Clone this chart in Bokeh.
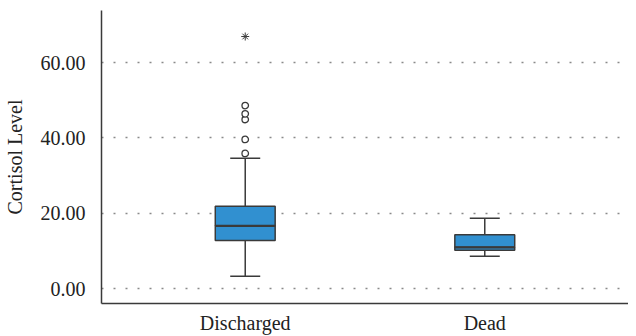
from bokeh.plotting import figure
from bokeh.models import (FactorRange, Range1d, FixedTicker, PrintfTickFormatter,
                          ColumnDataSource, Whisker, TeeHead)
from bokeh.embed import file_html
from bokeh.resources import INLINE

categories = ["Discharged", "Dead"]
lower_whisker = [3.3, 8.6]
q1 = [12.8, 10.2]
median = [16.7, 11.0]
q3 = [21.9, 14.3]
upper_whisker = [34.6, 18.7]

outlier_cats = ["Discharged", "Discharged", "Discharged", "Discharged", "Discharged"]
outlier_vals = [35.9, 39.6, 44.9, 46.4, 48.6]
extreme_cats = ["Discharged"]
extreme_vals = [66.9]

y_ticks = [0, 20, 40, 60]
y_label = "Cortisol Level"

FONT = "Liberation Serif"
DARK = "#3a3a3a"
BLUE = "#3190d0"

p = figure(width=628, height=336, output_backend="svg", toolbar_location=None,
           x_range=FactorRange(*categories, range_padding=0.1, range_padding_units="absolute"),
           y_range=Range1d(-3.9, 73.8),
           min_border_left=94, min_border_top=10, min_border_right=0, min_border_bottom=0)
p.outline_line_color = None
p.background_fill_color = "white"

src = ColumnDataSource(dict(x=categories, lo=lower_whisker, q1=q1, med=median, q3=q3, hi=upper_whisker))

p.add_layout(Whisker(source=src, base="x", lower="q3", upper="hi", dimension="height",
                     line_color=DARK, line_width=1.5,
                     upper_head=TeeHead(size=30, line_color=DARK, line_width=1.5), lower_head=None))
p.add_layout(Whisker(source=src, base="x", lower="lo", upper="q1", dimension="height",
                     line_color=DARK, line_width=1.5,
                     lower_head=TeeHead(size=30, line_color=DARK, line_width=1.5), upper_head=None))

p.vbar(x="x", bottom="q1", top="med", width=0.25, source=src,
       fill_color=BLUE, line_color=DARK, line_width=1.5)
p.vbar(x="x", bottom="med", top="q3", width=0.25, source=src,
       fill_color=BLUE, line_color=DARK, line_width=1.5)
p.vbar(x="x", bottom="med", top="med", width=0.25, source=src,
       fill_color=None, line_color=DARK, line_width=2.2)

p.scatter(x=outlier_cats, y=outlier_vals, marker="circle", size=6.5,
          fill_color="white", line_color=DARK, line_width=1.3)
p.scatter(x=extreme_cats, y=extreme_vals, marker="asterisk", size=8,
          line_color=DARK, line_width=1)

p.xgrid.grid_line_color = None
p.ygrid.ticker = FixedTicker(ticks=y_ticks)
p.ygrid.grid_line_color = "#8a8a8a"
p.ygrid.grid_line_width = 1.5
p.ygrid.grid_line_dash = "2 10"

p.yaxis.ticker = FixedTicker(ticks=y_ticks)
p.yaxis.formatter = PrintfTickFormatter(format="%.2f")
p.yaxis.axis_label = y_label

for ax in (p.xaxis[0], p.yaxis[0]):
    ax.axis_line_color = DARK
    ax.axis_line_width = 1.5
    ax.major_tick_line_color = None
    ax.minor_tick_line_color = None
    ax.major_label_text_font = FONT
    ax.major_label_text_font_size = "20px"
    ax.major_label_text_color = "#222222"
    ax.axis_label_text_font = FONT
    ax.axis_label_text_font_size = "20px"
    ax.axis_label_text_font_style = "normal"
    ax.axis_label_text_color = "#222222"

p.yaxis.major_label_standoff = 10
p.yaxis.axis_label_standoff = 12
p.xaxis.major_label_standoff = 2

open("out.html", "w").write(file_html(p, INLINE))
